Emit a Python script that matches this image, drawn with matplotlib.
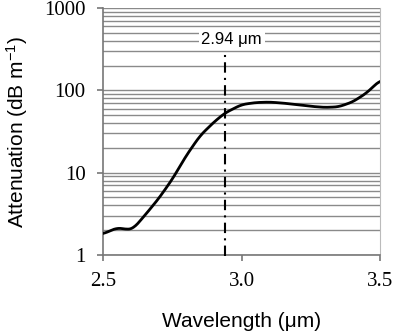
import numpy as np
import matplotlib.pyplot as plt
from matplotlib.ticker import LogLocator, FixedLocator, NullFormatter

# curve
wavelength = [2.50, 2.53, 2.55, 2.57, 2.59, 2.61, 2.65, 2.70, 2.75, 2.80, 2.85, 2.90,
              2.94, 3.00, 3.05, 3.10, 3.15, 3.20, 3.25, 3.30, 3.35, 3.40, 3.45, 3.50]
attenuation = [1.8, 2.0, 2.13, 2.1, 2.03, 2.1, 3.0, 4.8, 8.3, 16.0, 28.0, 41.0,
               53.0, 67.0, 71.0, 72.0, 70.0, 67.0, 64.0, 62.0, 63.0, 72.0, 92.0, 132.0]
marker_wl = 2.94
marker_label = '2.94 μm'
xticks = [2.5, 3.0, 3.5]
xticklabels = ['2.5', '3.0', '3.5']
yticks = [1, 10, 100, 1000]
yticklabels = ['1', '10', '100', '1000']

plt.rcParams['mathtext.default'] = 'regular'

fig = plt.figure(figsize=(3.97, 3.31), dpi=100)
ax = fig.add_axes([103/397, 1-255/331, 277/397, 247/331])

# smooth the hand-read points a little for drawing
xs = np.linspace(wavelength[0], wavelength[-1], 400)
ys = 10 ** np.interp(xs, wavelength, np.log10(attenuation))
k = np.ones(15) / 15
ys_s = 10 ** np.convolve(np.pad(np.log10(ys), 7, mode='edge'), k, mode='valid')

ax.set_yscale('log')
ax.set_ylim(1, 1000)
ax.set_xlim(2.5, 3.5)

ax.yaxis.set_major_locator(FixedLocator(yticks))
ax.yaxis.set_minor_locator(LogLocator(base=10, subs=np.arange(2, 10)))
ax.yaxis.set_minor_formatter(NullFormatter())
ax.set_yticklabels(yticklabels)
ax.set_xticks(xticks)
ax.set_xticklabels(xticklabels)

ax.grid(True, which='both', axis='y', color='#8a8a8a', linewidth=1.0)
ax.set_axisbelow(True)

ax.plot(xs, ys_s, color='black', linewidth=2.0, zorder=3)
ax.plot([marker_wl, marker_wl], [1 / 1.03, 300], color='black', linewidth=1.5,
        linestyle=(0, (5, 2.5, 1, 2.5)), clip_on=False, zorder=3)
ax.text(marker_wl + 0.025, 420, marker_label, ha='center', va='center',
        fontsize=12, family='Liberation Sans',
        bbox=dict(facecolor='white', edgecolor='none', pad=2), zorder=4)

ax.spines['top'].set_visible(False)
ax.spines['right'].set_color('#bbbbbb')
ax.spines['left'].set_color('#777777')
ax.spines['bottom'].set_color('#777777')
ax.spines['left'].set_linewidth(1.2)
ax.spines['bottom'].set_linewidth(1.2)

ax.tick_params(which='major', axis='both', direction='out', length=4.5, width=1.2,
               color='#777777', labelsize=15, pad=8)
ax.tick_params(which='minor', axis='y', length=0)
for lab in ax.get_xticklabels() + ax.get_yticklabels():
    lab.set_family('Liberation Serif')

ax.set_xlabel('Wavelength (μm)', fontsize=15, family='Liberation Sans', labelpad=15)
ax.set_ylabel('Attenuation (dB m$^{-1}$)', fontsize=15, family='Liberation Sans', labelpad=10)

fig.savefig('out.png', dpi=100)
